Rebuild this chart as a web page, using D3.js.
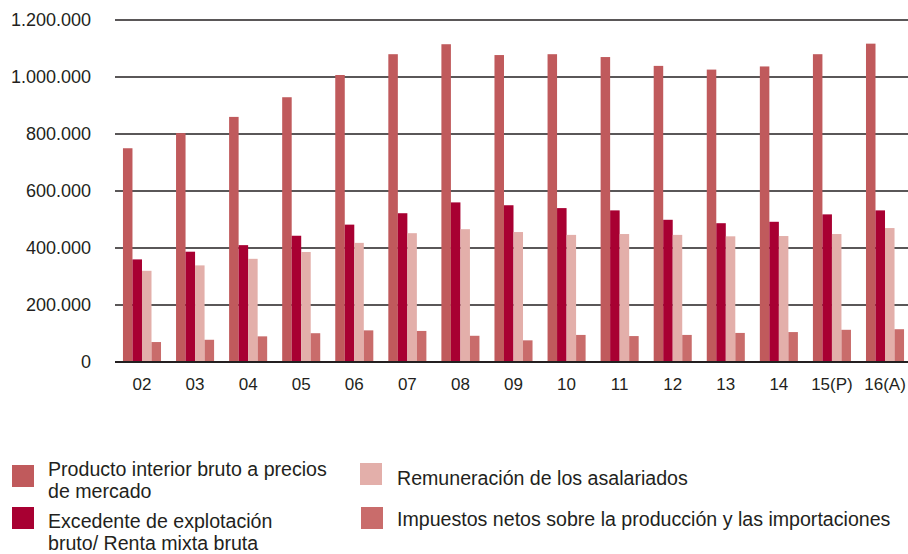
<!DOCTYPE html>
<html><head><meta charset="utf-8">
<script src="https://cdn.jsdelivr.net/npm/d3@7"></script>
<style>
body{margin:0;background:#fff;}
svg{display:block;}
</style></head>
<body>
<svg id="chart" width="908" height="554"></svg>
<script>
const years = ["02","03","04","05","06","07","08","09","10","11","12","13","14","15(P)","16(A)"];
const pib = [750000,803000,860000,929000,1007000,1080000,1115000,1077000,1080000,1070000,1039000,1026000,1037000,1080000,1117000];
const excedente = [360000,387000,410000,443000,482000,522000,560000,550000,540000,532000,499000,487000,492000,518000,532000];
const remuneracion = [320000,339000,362000,386000,418000,452000,466000,456000,446000,449000,446000,441000,442000,449000,470000];
const impuestos = [70000,78000,90000,101000,111000,109000,92000,76000,95000,91000,95000,102000,105000,113000,115000];
const yTicks = [0,200000,400000,600000,800000,1000000,1200000];
const seriesNames = ["Producto interior bruto a precios de mercado","Excedente de explotación bruto/ Renta mixta bruta","Remuneración de los asalariados","Impuestos netos sobre la producción y las importaciones"];
const colors = ["#c05a5c","#a80032","#e3afaa","#c96c6b"];

const svg = d3.select("#chart");
const fmt = v => d3.format(",")(v).replace(/,/g,".");

const x = d3.scaleBand().domain(years).range([115, 912]).paddingInner(0.283).paddingOuter(0.15);
const keys = ["pib","exc","rem","imp"];
const xi = d3.scaleBand().domain(keys).range([0, x.bandwidth()]);
const y = d3.scaleLinear().domain([0,1200000]).range([362, 20]);

const data = years.map((yr,i)=>({yr, vals:[pib[i],excedente[i],remuneracion[i],impuestos[i]]}));

// gridlines
svg.append("g").selectAll("line").data(yTicks.filter(d=>d>0)).join("line")
  .attr("x1",115).attr("x2",908)
  .attr("y1",d=>y(d)).attr("y2",d=>y(d))
  .attr("stroke","#231f20").attr("stroke-width",1.5);

// y labels
svg.append("g").selectAll("text").data(yTicks).join("text")
  .attr("x",91).attr("y",d=>y(d)+6)
  .attr("text-anchor","end")
  .attr("font-family","Liberation Sans, Arial, sans-serif")
  .attr("font-size",18).attr("fill","#231f20")
  .text(d=>fmt(d));

// bars
const groups = svg.append("g").selectAll("g").data(data).join("g")
  .attr("transform",d=>`translate(${x(d.yr)},0)`);
groups.selectAll("rect").data(d=>d.vals.map((v,k)=>({k:keys[k],v,c:colors[k]}))).join("rect")
  .attr("x",d=>xi(d.k)).attr("width",xi.bandwidth())
  .attr("y",d=>y(d.v)).attr("height",d=>y(0)-y(d.v))
  .attr("fill",d=>d.c);

// baseline
svg.append("line").attr("x1",115).attr("x2",908).attr("y1",y(0)).attr("y2",y(0))
  .attr("stroke","#231f20").attr("stroke-width",2);

// x labels
svg.append("g").selectAll("text").data(years).join("text")
  .attr("x",d=>x(d)+x.bandwidth()/2).attr("y",390)
  .attr("text-anchor","middle")
  .attr("font-family","Liberation Sans, Arial, sans-serif")
  .attr("font-size",17).attr("fill","#231f20")
  .text(d=>d);

// legend
const legend = [
  {c:colors[0], sx:12, sy:465, tx:48, lines:["Producto interior bruto a precios","de mercado"], ty:[476,498]},
  {c:colors[1], sx:12, sy:507, tx:48, lines:["Excedente de explotación","bruto/ Renta mixta bruta"], ty:[528,550]},
  {c:colors[2], sx:360, sy:463, tx:397, lines:["Remuneración de los asalariados"], ty:[485]},
  {c:colors[3], sx:361, sy:507, tx:397, lines:["Impuestos netos sobre la producción y las importaciones"], ty:[526]}
];
const lg = svg.append("g").selectAll("g").data(legend).join("g");
lg.append("rect").attr("x",d=>d.sx).attr("y",d=>d.sy).attr("width",22).attr("height",22).attr("fill",d=>d.c);
lg.each(function(d){
  d3.select(this).selectAll("text").data(d.lines.map((t,i)=>({t,yy:d.ty[i],x:d.tx}))).join("text")
    .attr("x",e=>e.x).attr("y",e=>e.yy)
    .attr("font-family","Liberation Sans Narrow, Arial Narrow, sans-serif")
    .attr("font-size",19.6).attr("fill","#231f20")
    .text(e=>e.t);
});
</script>
</body></html>
